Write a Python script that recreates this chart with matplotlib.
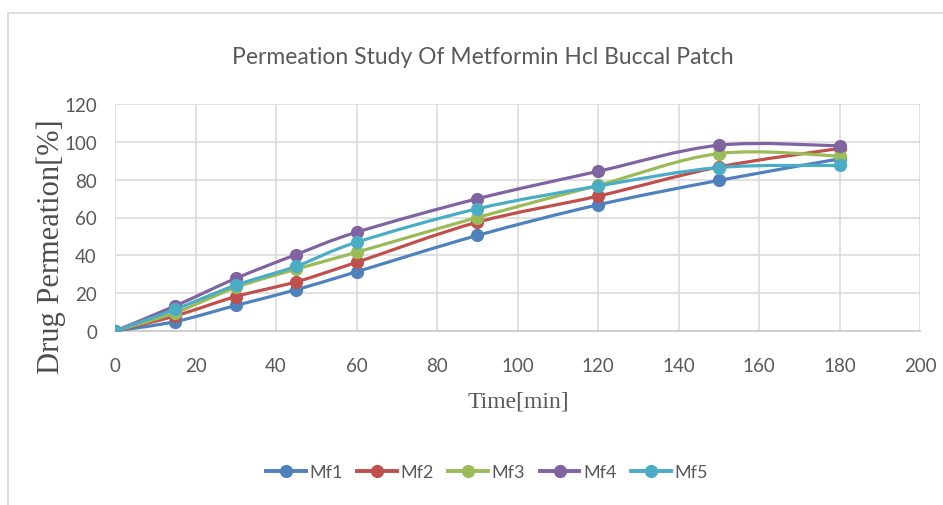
import numpy as np
import matplotlib.pyplot as plt
from matplotlib.path import Path
from matplotlib.patches import PathPatch, Rectangle
from matplotlib.lines import Line2D

# permeation data (time in min, drug permeated in %)
time = [0, 15, 30, 45, 60, 90, 120, 150, 180]
mf1 = [0, 5, 13.5, 21.8, 31.3, 50.5, 66.7, 79.6, 91]
mf2 = [0, 8, 18.2, 26, 36.3, 57.5, 71.3, 86.7, 96.5]
mf3 = [0, 9.7, 23, 32.7, 41.6, 60, 77, 93.8, 92.5]
mf4 = [0, 13.3, 27.8, 40.4, 52.2, 69.9, 84.4, 98.2, 97.9]
mf5 = [0, 11.5, 24.2, 34.2, 46.9, 64.6, 76.6, 86.4, 87.5]

names = ['Mf1', 'Mf2', 'Mf3', 'Mf4', 'Mf5']
series = [mf1, mf2, mf3, mf4, mf5]
colors = ['#4F81BD', '#C0504D', '#9BBB59', '#8064A2', '#4BACC6']

grey = '#595959'
sans = ['Lato', 'DejaVu Sans']
serif = ['Liberation Serif', 'DejaVu Serif']


def smooth_path(x, y):
    # bezier segments through the points, like the office "smoothed line"
    pts = np.column_stack([x, y]).astype(float)
    n = len(pts)
    verts = [pts[0]]
    codes = [Path.MOVETO]
    for i in range(n - 1):
        p0 = pts[max(i - 1, 0)]
        p1 = pts[i]
        p2 = pts[i + 1]
        p3 = pts[min(i + 2, n - 1)]
        verts += [p1 + (p2 - p0) / 6, p2 - (p3 - p1) / 6, p2]
        codes += [Path.CURVE4] * 3
    return Path(verts, codes)


W, H = 943, 506
fig = plt.figure(figsize=(W / 100, H / 100), dpi=100)
fig.patches.append(Rectangle((8 / W, -0.1), 1.2, 1 - 14 / H + 0.1,
                             transform=fig.transFigure, fill=False,
                             edgecolor='#d9d9d9', lw=1.2))

ax = fig.add_axes([115 / W, 1 - 332 / H, 805 / W, 227 / H])

for vals, name, c in zip(series, names, colors):
    ax.add_patch(PathPatch(smooth_path(time, vals), fill=False,
                           edgecolor=c, lw=2.3, zorder=3))
    ax.plot(time, vals, 'o', color=c, ms=8.5, zorder=4)

ax.set_xlim(0, 200)
ax.set_ylim(0, 120)
ax.set_xticks(range(0, 201, 20))
ax.set_yticks(range(0, 121, 20))
ax.grid(True, color='#d9d9d9', lw=1.1)
ax.set_axisbelow(True)
for s in ['top', 'right', 'left']:
    ax.spines[s].set_visible(False)
ax.spines['bottom'].set_color('#c8c8c8')
ax.spines['bottom'].set_linewidth(1.2)
ax.tick_params(length=0, labelcolor=grey, labelsize=13.5)
ax.tick_params(axis='x', pad=19)
ax.tick_params(axis='y', pad=13)
for lab in ax.get_xticklabels() + ax.get_yticklabels():
    lab.set_family(sans)

# axis titles placed in figure pixels
fig.text(518 / W, 1 - 402 / H, 'Time[min]', family=serif, fontsize=17,
         color=grey, ha='center', va='center')
fig.text(51 / W, 1 - 247 / H, 'Drug Permeation[%]', family=serif, fontsize=22,
         color='#4d4d4d', ha='center', va='center', rotation=90)

fig.text(483 / W, 1 - 57 / H, 'Permeation Study Of Metformin Hcl Buccal Patch',
         ha='center', va='center', fontsize=16.5, color=grey, family=sans)

handles = [Line2D([], [], color=c, lw=2.8, marker='o', ms=8.5) for c in colors]
fig.legend(handles, names, loc='center', bbox_to_anchor=(487 / W, 1 - 473 / H),
           ncol=5, frameon=False, handlelength=2.2, handletextpad=0.2,
           columnspacing=0.8, prop={'family': sans, 'size': 13},
           labelcolor=grey)

fig.savefig('out.png', dpi=100, facecolor='white')
